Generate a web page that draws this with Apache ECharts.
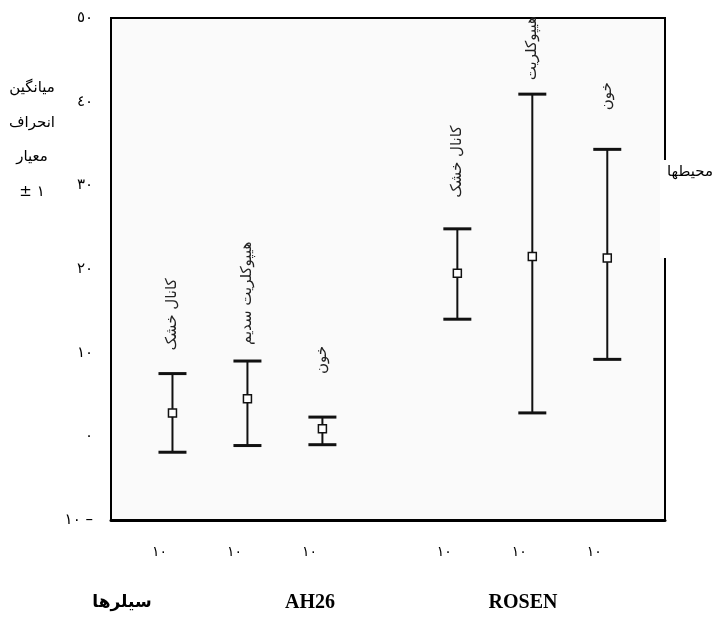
<!DOCTYPE html>
<html lang="fa">
<head>
<meta charset="UTF-8">
<title>chart</title>
<style>
  html,body{margin:0;padding:0;background:#fff;}
  #main{width:724px;height:629px;}
</style>
</head>
<body>
<div id="main"></div>
<script src="https://cdn.jsdelivr.net/npm/echarts@6/dist/echarts.min.js"></script>
<script>
// data
const groups=['کانال خشک','هیپوکلریت سدیم','خون','کانال خشک','هیپوکلریت','خون'];
const meanValues=[2.8,4.5,0.9,19.5,21.5,21.3];
const lowValues=[-1.9,-1.1,-1.0,14.0,2.8,9.2];
const highValues=[7.5,9.0,2.3,24.8,40.9,34.3];
const nValues=[10,10,10,10,10,10];
const yTicks=[-10,0,10,20,30,40,50];

// layout / style bits
const setGap=0.8;                 // extra space between the two sealer groups
const labelGap=[23,16,43,31,14,39];
const persianFont='"DejaVu Sans"';

function toArabic(n){
  return String(Math.abs(n)).replace(/\d/g,d=>'٠١٢٣٤٥٦٧٨٩'[d])+(n<0?' –':'');
}

const seriesData=groups.map((g,i)=>[i+(i>=3?setGap:0),lowValues[i],meanValues[i],highValues[i]]);

const chart=echarts.init(document.getElementById('main'));
const option={
  backgroundColor:'#fff',
  animation:false,
  grid:{left:111,right:59,top:18,bottom:109,show:true,borderColor:'#000',borderWidth:2,backgroundColor:'#fafafa'},
  xAxis:{
    type:'value',min:-0.82,max:6.57,
    axisLine:{show:true,onZero:false,lineStyle:{color:'#000',width:3}},
    axisTick:{show:false},axisLabel:{show:false},splitLine:{show:false}
  },
  yAxis:{
    type:'value',min:yTicks[0],max:yTicks[yTicks.length-1],interval:10,
    axisLine:{show:true,onZero:false,lineStyle:{color:'#000',width:2}},
    axisTick:{show:false},splitLine:{show:false},
    axisLabel:{margin:18,color:'#000',fontSize:15,fontFamily:persianFont,formatter:v=>toArabic(v)}
  },
  series:[{
    type:'custom',
    clip:false,
    data:seriesData,
    renderItem:function(params,api){
      const i=params.dataIndex;
      const x=api.value(0);
      const pLo=api.coord([x,api.value(1)]);
      const pM=api.coord([x,api.value(2)]);
      const pHi=api.coord([x,api.value(3)]);
      const base=api.coord([x,yTicks[0]]);
      const cap=14,sq=4;
      return {type:'group',children:[
        {type:'line',shape:{x1:pLo[0],y1:pLo[1],x2:pHi[0],y2:pHi[1]},style:{stroke:'#111',lineWidth:2}},
        {type:'line',shape:{x1:pHi[0]-cap,y1:pHi[1],x2:pHi[0]+cap,y2:pHi[1]},style:{stroke:'#111',lineWidth:3}},
        {type:'line',shape:{x1:pLo[0]-cap,y1:pLo[1],x2:pLo[0]+cap,y2:pLo[1]},style:{stroke:'#111',lineWidth:3}},
        {type:'rect',shape:{x:pM[0]-sq,y:pM[1]-sq,width:sq*2,height:sq*2},style:{fill:'#fff',stroke:'#111',lineWidth:1.5}},
        {type:'text',x:pHi[0],y:pHi[1]-labelGap[i],rotation:Math.PI/2,
          style:{text:groups[i],align:'left',verticalAlign:'middle',fontSize:15,fontFamily:persianFont,fill:'#222'}},
        {type:'text',x:base[0]-13,y:base[1]+32,
          style:{text:toArabic(nValues[i]),align:'center',verticalAlign:'middle',fontSize:14,fontFamily:persianFont,fill:'#000'}}
      ]};
    }
  }],
  graphic:[
    {type:'text',x:32,y:88,style:{text:'میانگین',align:'center',verticalAlign:'middle',fontSize:15,fontFamily:persianFont,fill:'#000'}},
    {type:'text',x:32,y:123,style:{text:'انحراف',align:'center',verticalAlign:'middle',fontSize:15,fontFamily:persianFont,fill:'#000'}},
    {type:'text',x:32,y:157,style:{text:'معیار',align:'center',verticalAlign:'middle',fontSize:15,fontFamily:persianFont,fill:'#000'}},
    {type:'text',x:32,y:192,style:{text:'± ١',align:'center',verticalAlign:'middle',fontSize:15,fontFamily:persianFont,fill:'#000'}},
    {type:'rect',z:100,shape:{x:660,y:160,width:64,height:98},style:{fill:'#fff'}},
    {type:'text',z:101,x:667,y:172,style:{text:'محیطها',align:'left',verticalAlign:'middle',fontSize:15,fontFamily:persianFont,fill:'#000'}},
    {type:'text',x:122,y:603,style:{text:'سیلرها',align:'center',verticalAlign:'middle',fontSize:17,fontWeight:'bold',fontFamily:persianFont,fill:'#000'}},
    {type:'text',x:310,y:603,style:{text:'AH26',align:'center',verticalAlign:'middle',fontSize:20,fontWeight:'bold',fontFamily:'"Liberation Serif"',fill:'#000'}},
    {type:'text',x:523,y:603,style:{text:'ROSEN',align:'center',verticalAlign:'middle',fontSize:20,fontWeight:'bold',fontFamily:'"Liberation Serif"',fill:'#000'}}
  ]
};
chart.setOption(option);
</script>
</body>
</html>
